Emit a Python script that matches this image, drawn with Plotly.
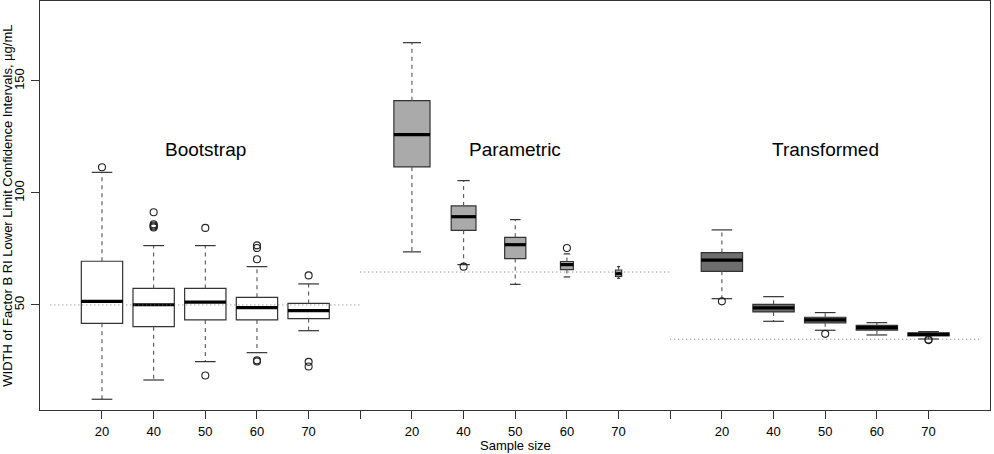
import plotly.graph_objects as go

# ---------------- data ----------------
sample_sizes = ["20", "40", "50", "60", "70"]
methods = ["Bootstrap", "Parametric", "Transformed"]

boot_lower  = [7.9, 16.5, 24.7, 28.7, 38.5]
boot_q1     = [41.8, 40.3, 43.3, 43.3, 43.9]
boot_median = [51.6, 50.1, 51.3, 48.8, 47.5]
boot_q3     = [69.5, 57.4, 57.4, 53.4, 50.7]
boot_upper  = [109.2, 76.5, 76.5, 67.1, 59.4]
boot_out    = [[111.5], [91.4, 86.0, 85.5, 85.0, 84.6], [84.4, 18.5],
               [76.6, 75.4, 70.4, 25.3, 24.8], [63.2, 24.6, 22.5]]

param_lower  = [73.7, 68.0, 59.2, 62.5, 61.9]
param_q1     = [111.6, 83.3, 70.7, 65.8, 62.7]
param_median = [126.0, 89.4, 76.9, 68.0, 64.0]
param_q3     = [141.2, 94.2, 80.2, 69.4, 65.6]
param_upper  = [167.1, 105.5, 88.1, 72.8, 67.1]
param_out    = [[], [67.1], [], [75.4], []]

trans_lower  = [52.8, 42.7, 38.7, 36.6, 34.8]
trans_q1     = [65.0, 46.9, 42.0, 38.8, 36.2]
trans_median = [70.0, 48.7, 43.3, 39.9, 36.9]
trans_q3     = [73.4, 50.3, 44.5, 40.9, 37.5]
trans_upper  = [83.5, 53.7, 46.6, 42.1, 38.1]
trans_out    = [[51.6], [], [37.1], [], [34.6, 34.3]]

reference_values = [50.0, 64.7, 34.7]

# ---------------- styles ----------------
box_widths = [[0.8] * 5, [0.70, 0.48, 0.41, 0.25, 0.12], [0.8] * 5]
fills = ["#ffffff", "#aaaaaa", "#6e6e6e"]
FONT = "Liberation Sans, Arial, Helvetica, sans-serif"

groups = [
    (boot_lower, boot_q1, boot_median, boot_q3, boot_upper, boot_out),
    (param_lower, param_q1, param_median, param_q3, param_upper, param_out),
    (trans_lower, trans_q1, trans_median, trans_q3, trans_upper, trans_out),
]

fig = go.Figure()

wx, wy = [], []      # whiskers
cx, cy = [], []      # caps
mx, my = [], []      # medians
ox, oy = [], []      # outliers
tickvals, ticktext = [], []

for g, (lo, q1, med, q3, up, out) in enumerate(groups):
    for i in range(5):
        pos = 6 * g + i + 1
        w = box_widths[g][i]
        tickvals.append(pos)
        ticktext.append(sample_sizes[i])
        fig.add_trace(go.Box(
            x=[pos], q1=[q1[i]], median=[med[i]], q3=[q3[i]],
            lowerfence=[q1[i]], upperfence=[q3[i]],
            width=w, fillcolor=fills[g],
            line=dict(color="#333333", width=1.2),
            whiskerwidth=0, boxpoints=False,
            showlegend=False, hoverinfo="skip",
        ))
        wx += [pos, pos, None, pos, pos, None]
        wy += [q3[i], up[i], None, q1[i], lo[i], None]
        cx += [pos - w / 4, pos + w / 4, None, pos - w / 4, pos + w / 4, None]
        cy += [up[i], up[i], None, lo[i], lo[i], None]
        mx += [pos - w / 2, pos + w / 2, None]
        my += [med[i], med[i], None]
        for v in out[i]:
            ox.append(pos)
            oy.append(v)
    if g < 2:
        tickvals.append(6 * g + 6)
        ticktext.append("")

fig.add_trace(go.Scatter(x=wx, y=wy, mode="lines",
                         line=dict(color="#555555", width=1.1, dash="4px,4px"),
                         showlegend=False, hoverinfo="skip"))
fig.add_trace(go.Scatter(x=cx, y=cy, mode="lines",
                         line=dict(color="#333333", width=1.2),
                         showlegend=False, hoverinfo="skip"))
fig.add_trace(go.Scatter(x=mx, y=my, mode="lines",
                         line=dict(color="#000000", width=3.2),
                         showlegend=False, hoverinfo="skip"))
fig.add_trace(go.Scatter(x=ox, y=oy, mode="markers",
                         marker=dict(symbol="circle-open", size=7,
                                     color="#222222", line=dict(width=1.1)),
                         showlegend=False, hoverinfo="skip"))

# reference dotted lines
rx, ry = [], []
for g, v in enumerate(reference_values):
    rx += [6 * g, 6 * g + 6, None]
    ry += [v, v, None]
fig.add_trace(go.Scatter(x=rx, y=ry, mode="lines",
                         line=dict(color="#777777", width=1, dash="1px,3px"),
                         showlegend=False, hoverinfo="skip"))

# group labels
for g, name in enumerate(methods):
    fig.add_annotation(x=6 * g + 3, y=119.5, xref="x", yref="y", text=name,
                       showarrow=False, font=dict(size=19, color="#000000", family=FONT))

fig.add_annotation(x=9, y=-0.086, xref="x", yref="paper", text="Sample size",
                   showarrow=False, yanchor="middle",
                   font=dict(size=13, color="#000000", family=FONT))
fig.add_annotation(x=-0.0345, y=0.5, xref="paper", yref="paper",
                   text="WIDTH of Factor B RI Lower Limit Confidence Intervals, µg/mL",
                   textangle=-90, showarrow=False, xanchor="center", yanchor="middle",
                   font=dict(size=13, color="#000000", family=FONT))

fig.update_layout(
    width=994, height=454,
    margin=dict(l=40, r=4, t=1, b=44),
    plot_bgcolor="white", paper_bgcolor="white",
    font=dict(family=FONT, size=13, color="#000000"),
    boxmode="overlay",
    xaxis=dict(range=[-0.2, 18.19], tickvals=tickvals, ticktext=ticktext,
               ticks="outside", ticklen=8, tickcolor="#333333", tickwidth=1,
               showline=True, linecolor="#333333", linewidth=1.2, mirror=True,
               showgrid=False, zeroline=False, ticklabelstandoff=1),
    yaxis=dict(range=[3.1, 185.7], tickvals=[50, 100, 150], tickangle=-90,
               ticks="outside", ticklen=8, tickcolor="#333333", tickwidth=1,
               showline=True, linecolor="#333333", linewidth=1.2, mirror=True,
               showgrid=False, zeroline=False, ticklabelstandoff=2),
)

fig.write_html("out.html")
